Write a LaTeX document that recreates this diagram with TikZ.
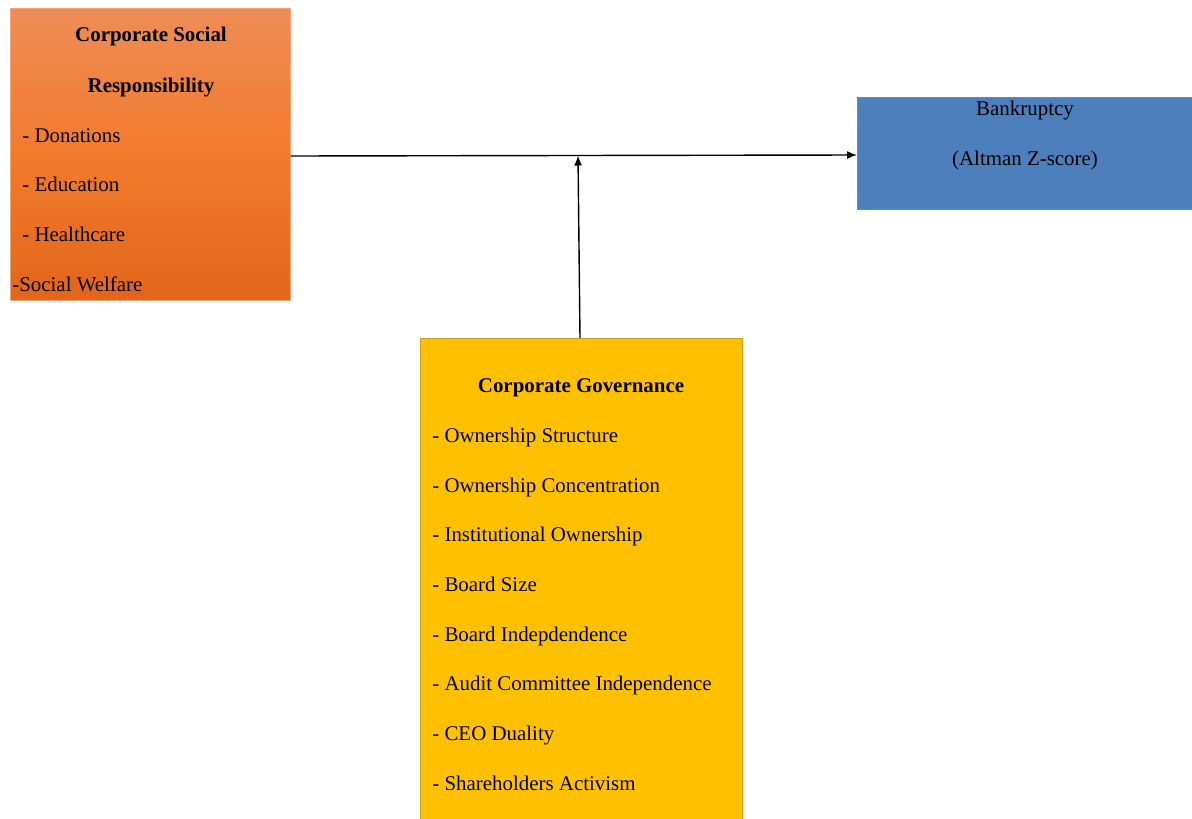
\documentclass[tikz,border=0pt]{standalone}
\usepackage{fontspec}
\setmainfont{Liberation Serif}
\usetikzlibrary{arrows.meta}
\definecolor{orTop}{RGB}{239,140,86}
\definecolor{orMid}{RGB}{241,123,44}
\definecolor{orBot}{RGB}{226,102,26}
\definecolor{bxBlue}{RGB}{76,127,188}
\definecolor{bxBlueLine}{RGB}{90,140,200}
\definecolor{bxYellow}{RGB}{255,192,0}
\definecolor{bxYellowLine}{RGB}{205,160,20}
\tikzset{
  box/.style={rectangle, anchor=north west, inner sep=0pt},
  lbl/.style={inner sep=0pt, text height=8.4pt, text depth=2.6pt, font=\fontsize{11.9}{14}\selectfont},
  lblb/.style={lbl, font=\fontsize{11.9}{14}\selectfont\bfseries},
  item/.style={lbl, anchor=west},
  conn/.style={line width=0.8pt, -{Latex[length=2mm,width=1.6mm]}},
}
\begin{document}
\begin{tikzpicture}[x=0.02cm, y=-0.02cm]
\useasboundingbox (0,0) rectangle (1192,818);
\clip (0,0) rectangle (1192,818);
% Corporate Social Responsibility box
\node[box, draw=orTop!80!white, top color=orTop, bottom color=orBot, middle color=orMid,
      minimum width=5.6cm, minimum height=5.84cm] (csr) at (10,8) {};
\node[lblb] (csr1) at (151,36) {Corporate Social};
\node[lblb] (csr2) at (151,87) {Responsibility};
\node[item] (csr3) at (22,137) {- Donations};
\node[item] (csr4) at (22,186) {- Education};
\node[item] (csr5) at (22,236) {- Healthcare};
\node[item] (csr6) at (12,286) {-Social Welfare};
% Bankruptcy box
\node[box, draw=bxBlueLine, fill=bxBlue,
      minimum width=6.8cm, minimum height=2.24cm] (bk) at (857,97) {};
\node[lbl] (bk1) at (1025,110) {Bankruptcy};
\node[lbl] (bk2) at (1025,160) {(Altman Z-score)};
% Corporate Governance box
\node[box, draw=bxYellowLine, fill=bxYellow,
      minimum width=6.44cm, minimum height=10cm] (cg) at (420,338) {};
\node[lblb] (cg0) at (581,387) {Corporate Governance};
\node[item] (cg1) at (432,437) {- Ownership Structure};
\node[item] (cg2) at (432,487) {- Ownership Concentration};
\node[item] (cg3) at (432,536) {- Institutional Ownership};
\node[item] (cg4) at (432,586) {- Board Size};
\node[item] (cg5) at (432,636) {- Board Indepdendence};
\node[item] (cg6) at (432,685) {- Audit Committee Independence};
\node[item] (cg7) at (432,735) {- CEO Duality};
\node[item] (cg8) at (432,785) {- Shareholders Activism};
% connectors
\coordinate (j) at (578,155.5);
\draw[conn] (csr.east |- 0,156) -- (bk.west |- 0,155);
\draw[conn] (cg.north -| 580,0) -- (j);
\end{tikzpicture}
\end{document}
